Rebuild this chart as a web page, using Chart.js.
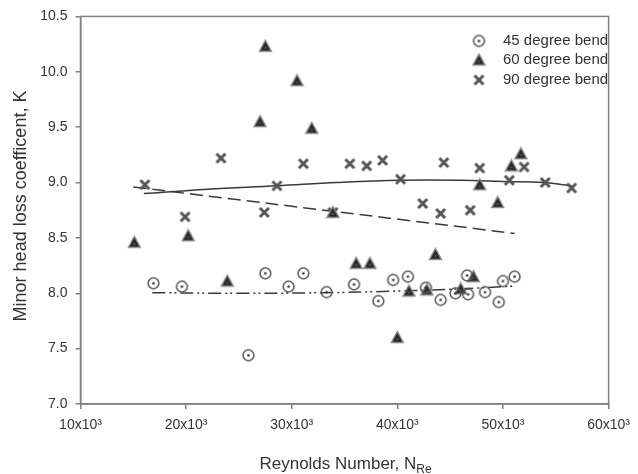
<!DOCTYPE html>
<html>
<head>
<meta charset="utf-8">
<script src="https://cdn.jsdelivr.net/npm/chart.js@4"></script>
<style>
  html, body { margin: 0; padding: 0; background: #fff; }
  #lossChart { display: block; }
</style>
</head>
<body>
<canvas id="lossChart" width="638" height="474"></canvas>
<script>
// Measured points, Reynolds number vs K
const re45 = [16900, 19600, 25900, 27500, 29700, 31100, 33300, 35900, 38200, 39600, 41000, 42700, 44100, 45500, 46600, 46700, 48300, 49600, 50000, 51100];
const k45 = [8.09, 8.06, 7.44, 8.18, 8.06, 8.18, 8.01, 8.08, 7.93, 8.12, 8.15, 8.05, 7.94, 8.00, 8.16, 7.99, 8.01, 7.92, 8.11, 8.15];

const re60 = [15100, 20200, 23900, 27000, 27500, 30500, 31900, 33900, 36100, 37400, 40000, 41100, 42800, 43600, 46000, 47200, 47800, 49500, 50800, 51700];
const k60 = [8.46, 8.52, 8.11, 9.55, 10.23, 9.92, 9.49, 8.73, 8.27, 8.27, 7.60, 8.02, 8.03, 8.35, 8.04, 8.15, 8.98, 8.82, 9.15, 9.26];

const re90 = [16100, 19900, 23300, 27400, 28600, 31100, 33900, 35500, 37100, 38600, 40300, 42400, 44100, 44400, 46900, 47800, 50600, 52000, 54000, 56500];
const k90 = [8.98, 8.69, 9.22, 8.73, 8.97, 9.17, 8.73, 9.17, 9.15, 9.20, 9.03, 8.81, 8.72, 9.18, 8.75, 9.13, 9.02, 9.14, 9.00, 8.95];

// Fitted trend lines
const fit45Re = [16800, 25000, 33000, 40000, 46000, 51100];
const fit45K = [8.005, 8.00, 8.005, 8.02, 8.04, 8.065];
const fit60Re = [15000, 51100];
const fit60K = [8.96, 8.54];
const fit90Re = [16000, 22000, 28600, 34300, 40300, 46000, 50000, 53900, 56500];
const fit90K = [8.90, 8.94, 8.97, 9.00, 9.02, 9.02, 9.01, 9.00, 8.97];

const seriesNames = ["45 degree bend", "60 degree bend", "90 degree bend"];
const xTickLabels = ["10x10³", "20x10³", "30x10³", "40x10³", "50x10³", "60x10³"];

const FONT = "'Liberation Sans', Arial, sans-serif";
const TEXT = "#333";
const AXIS = "#808080";

function pairs(xs, ys) {
  return xs.map((x, i) => ({ x: x, y: ys[i] }));
}

// small canvases used as point symbols
function makeMarker(draw) {
  const c = document.createElement("canvas");
  c.width = 15;
  c.height = 15;
  draw(c.getContext("2d"));
  return c;
}

const circleDot = makeMarker((g) => {
  g.strokeStyle = "#555";
  g.lineWidth = 1.5;
  g.beginPath();
  g.arc(7.5, 7.5, 5.4, 0, Math.PI * 2);
  g.stroke();
  g.fillStyle = "#333";
  g.beginPath();
  g.arc(7.5, 7.5, 1.3, 0, Math.PI * 2);
  g.fill();
});

const triangle = makeMarker((g) => {
  g.beginPath();
  g.moveTo(7.5, 1.5);
  g.lineTo(13.5, 12.5);
  g.lineTo(1.5, 12.5);
  g.closePath();
  g.fillStyle = "#262626";
  g.fill();
  g.strokeStyle = "#8a8a8a";
  g.lineWidth = 1.4;
  g.stroke();
  g.fillStyle = "#555";
  g.fillRect(6.5, 8, 2, 2);
});

const cross = makeMarker((g) => {
  g.strokeStyle = "#555";
  g.lineWidth = 3;
  g.beginPath();
  g.moveTo(3, 3);
  g.lineTo(12, 12);
  g.moveTo(12, 3);
  g.lineTo(3, 12);
  g.stroke();
});

const markers = [circleDot, triangle, cross];

function scatterSet(label, xs, ys, marker) {
  return {
    type: "scatter",
    label: label,
    data: pairs(xs, ys),
    pointStyle: marker,
    pointRadius: 5,
    pointHoverRadius: 5,
    showLine: false,
  };
}

function fitSet(xs, ys, dash) {
  return {
    type: "line",
    label: "",
    data: pairs(xs, ys),
    borderColor: "#3a3a3a",
    borderWidth: 1.5,
    borderDash: dash,
    pointRadius: 0,
    tension: 0.4,
    fill: false,
  };
}

// frame, axis titles and the legend box
const decorations = {
  id: "decorations",
  afterDraw(chart) {
    const { ctx, chartArea: a } = chart;
    ctx.save();
    ctx.strokeStyle = AXIS;
    ctx.lineWidth = 1.5;
    ctx.strokeRect(a.left, a.top, a.right - a.left, a.bottom - a.top);

    ctx.fillStyle = TEXT;

    // y title
    ctx.save();
    ctx.translate(21, 206);
    ctx.rotate(-Math.PI / 2);
    ctx.font = "18px " + FONT;
    ctx.textAlign = "center";
    ctx.textBaseline = "middle";
    ctx.fillText("Minor head loss coefficent, K", 0, 0);
    ctx.restore();

    // x title with subscript
    const main = "Reynolds Number, N";
    const sub = "Re";
    ctx.font = "17px " + FONT;
    const wMain = ctx.measureText(main).width;
    ctx.font = "12px " + FONT;
    const wSub = ctx.measureText(sub).width;
    const x0 = (a.left + a.right) / 2 - (wMain + wSub) / 2 + 1;
    ctx.textAlign = "left";
    ctx.textBaseline = "alphabetic";
    ctx.font = "17px " + FONT;
    ctx.fillText(main, x0, 469);
    ctx.font = "12px " + FONT;
    ctx.fillText(sub, x0 + wMain, 473);

    // legend
    ctx.font = "15px " + FONT;
    ctx.textBaseline = "middle";
    const rows = [41, 60, 80];
    seriesNames.forEach((name, i) => {
      const m = markers[i];
      ctx.drawImage(m, 479 - m.width / 2, rows[i] - m.height / 2);
      ctx.fillText(name, 503, rows[i]);
    });
    ctx.restore();
  },
};

const chart = new Chart(document.getElementById("lossChart"), {
  data: {
    datasets: [
      scatterSet(seriesNames[0], re45, k45, circleDot),
      scatterSet(seriesNames[1], re60, k60, triangle),
      scatterSet(seriesNames[2], re90, k90, cross),
      fitSet(fit45Re, fit45K, [13, 4, 2, 3, 2, 4]),
      fitSet(fit60Re, fit60K, [13, 6]),
      fitSet(fit90Re, fit90K, []),
    ],
  },
  options: {
    responsive: false,
    animation: false,
    layout: {
      autoPadding: false,
      padding: { left: 0, top: 13, right: 23.5, bottom: 0 },
    },
    plugins: {
      legend: { display: false },
      tooltip: { enabled: false },
    },
    scales: {
      x: {
        type: "linear",
        position: "bottom",
        min: 10000,
        max: 60000,
        afterFit: (s) => { s.height = 70; },
        ticks: {
          stepSize: 10000,
          color: TEXT,
          padding: 8,
          maxRotation: 0,
          font: { family: FONT, size: 14 },
          callback: (v) => xTickLabels[Math.round((v - 10000) / 10000)],
        },
        grid: { drawOnChartArea: false, drawTicks: true, tickLength: 5, color: AXIS, lineWidth: 1.5 },
        border: { color: AXIS, width: 1.5 },
      },
      y: {
        min: 7,
        max: 10.5,
        afterFit: (s) => { s.width = 80.5; },
        ticks: {
          stepSize: 0.5,
          color: TEXT,
          padding: 8,
          font: { family: FONT, size: 14 },
          callback: (v) => v.toFixed(1),
        },
        grid: { drawOnChartArea: false, drawTicks: true, tickLength: 5, color: AXIS, lineWidth: 1.5 },
        border: { color: AXIS, width: 1.5 },
      },
    },
  },
  plugins: [decorations],
});
</script>
</body>
</html>
